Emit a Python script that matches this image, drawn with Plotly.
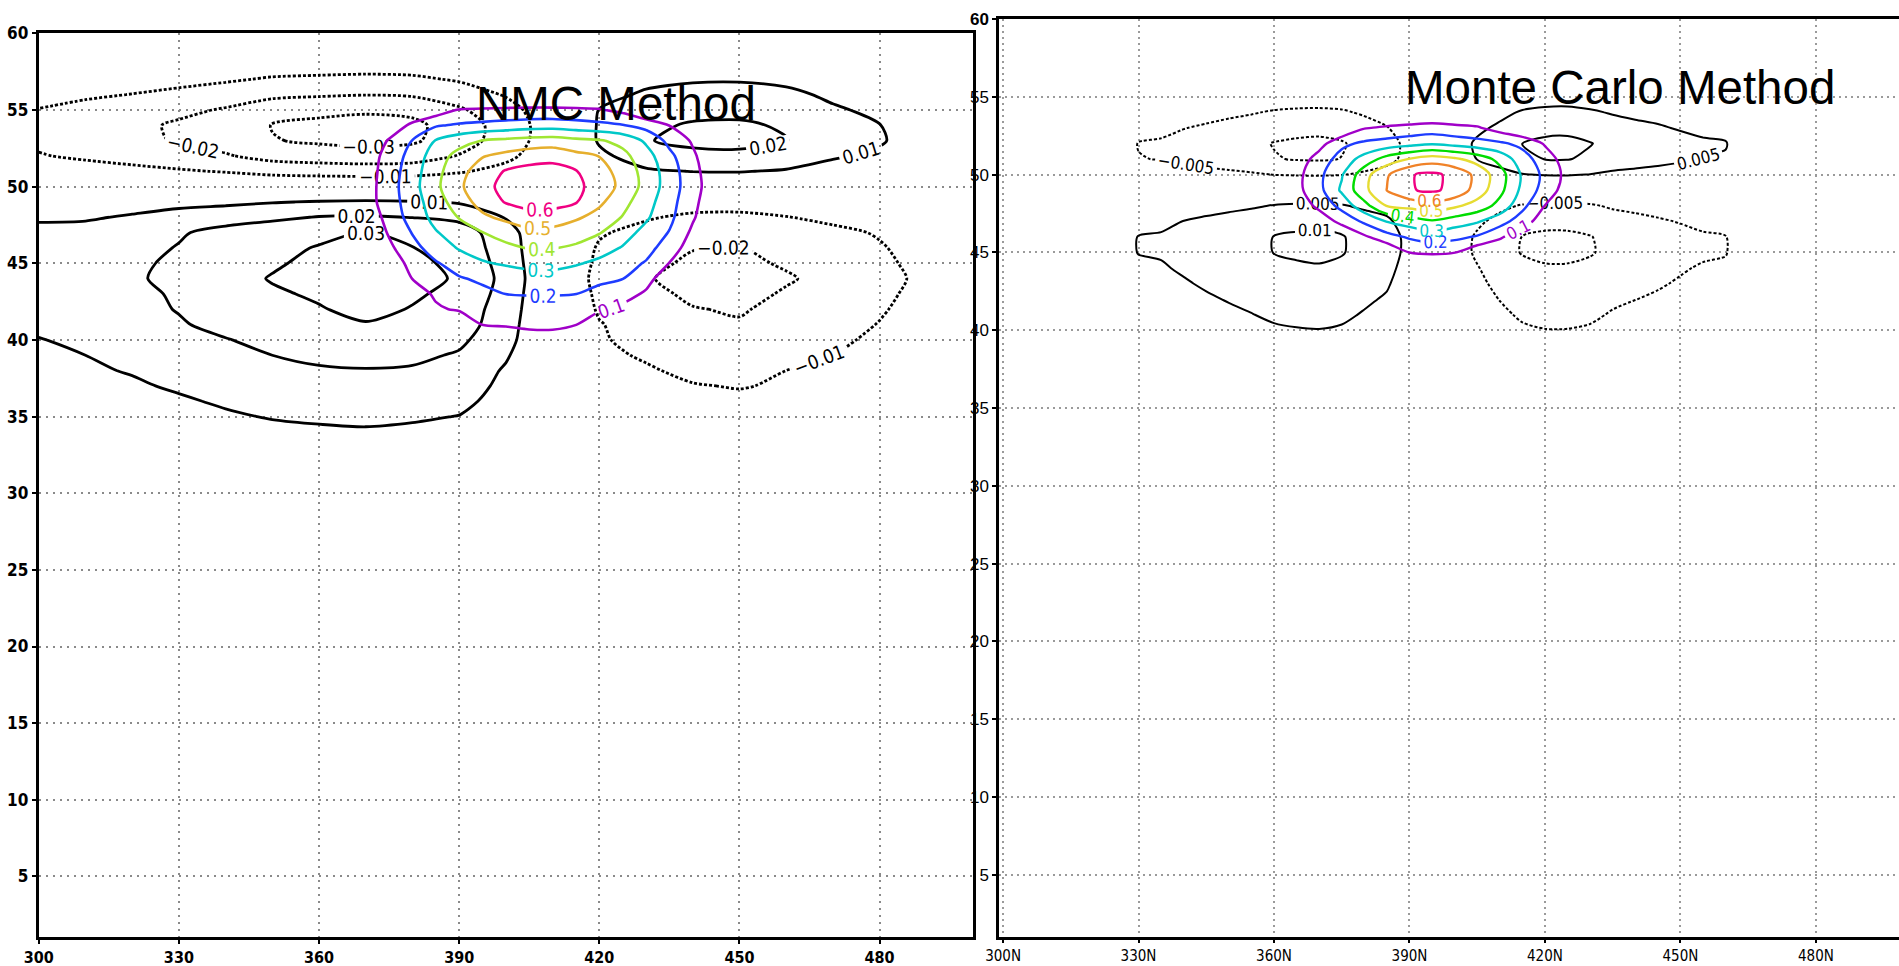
import numpy as np
import plotly.graph_objects as go

# ---------------- NMC method panel -----------------------------------------
# coloured field (units of 1/100), grid
NMC_CORR_X = [365, 370, 375, 380, 385, 390, 395, 400, 405, 410, 415, 420, 425, 430, 435, 440, 445, 450]
NMC_CORR_Y = [39, 40, 41, 42, 43, 44, 45, 46, 47, 48, 49, 50, 51, 52, 53, 54, 55, 56]
NMC_CORR = [
    [0, 0, 0, 0, 0, 0, 0, 0, 0, 0, 0, 0, 0, 0, 0, 0, 0, 0],
    [0, 0, 0, 0, 0, 0, 0, 5, 7, 7, 5, 0, 0, 0, 0, 0, 0, 0],
    [0, 0, 0, 0, 0, 1, 10.3, 10.7, 11.4, 11.5, 10.2, 1.8, 0, 0, 0, 0, 0, 0],
    [0, 0, 0, 0, 8.6, 11.2, 13.6, 15.4, 16, 16, 14.5, 11.5, 8, 0, 0, 0, 0, 0],
    [0, 0, 0, 5, 11.5, 14.5, 17.6, 20.1, 20.5, 20.5, 20.1, 17.3, 13.4, 8.8, 0, 0, 0, 0],
    [0, 0, 0, 10.2, 14.7, 19.2, 21.7, 23.7, 25.8, 26.3, 24.4, 21.9, 20.2, 13.1, 4.4, 0, 0, 0],
    [0, 0, 4.6, 12.9, 19.1, 24.2, 29, 31.2, 33, 33, 31, 27.9, 23.8, 19.2, 9.8, 0, 0, 0],
    [0, 0, 8, 16.8, 24.5, 30.8, 34.4, 37.9, 40.5, 40.4, 38.6, 34, 29.3, 23.5, 15.3, 4.6, 0, 0],
    [0, 1, 11, 20.5, 29.3, 34.7, 39.8, 43.7, 47.6, 47.2, 43.9, 40.6, 34.1, 26.9, 19.5, 8, 0, 0],
    [0, 3, 13.4, 24.2, 33.1, 40.5, 48.2, 52.4, 55.6, 54.9, 51.5, 46.4, 39.5, 31.5, 22.4, 11.2, 1, 0],
    [0, 5.4, 15.2, 25.3, 35.4, 45.2, 53.9, 60.7, 64.2, 64.2, 60.7, 52, 43.3, 34, 23.8, 12.7, 2.4, 0],
    [0, 5.4, 15.5, 26.4, 37.9, 48.2, 57.2, 62.6, 66.8, 65.8, 62.1, 56.2, 47.1, 36.7, 25.3, 14, 3.6, 0],
    [0, 5, 14.9, 25.5, 37, 46.7, 54.8, 60.7, 63, 63.5, 60.5, 54.2, 45.9, 36.4, 25, 13.3, 3, 0],
    [0, 4.2, 13.8, 23.7, 35.2, 43.4, 49.4, 52.7, 55.6, 56.8, 52.8, 49.8, 42.9, 34, 22.5, 11.7, 1.6, 0],
    [0, 1, 10.9, 20.3, 30.5, 36, 40.4, 42.1, 43.7, 44.4, 42.3, 40.9, 36.9, 28.4, 17.1, 8.8, 0, 0],
    [0, 0, 3.2, 12.2, 19, 21.2, 22.6, 24, 25.4, 25.8, 24.3, 22.5, 20.5, 16.3, 9.8, 0, 0, 0],
    [0, 0, 0, 0, 4, 10.5, 11, 11.5, 11.8, 11.8, 11.4, 10.8, 7.4, 0, 0, 0, 0, 0],
    [0, 0, 0, 0, 0, 0, 0, 0, 0, 0, 0, 0, 0, 0, 0, 0, 0, 0],
]
NMC_CORR_LEVELS = [0.1, 0.2, 0.3, 0.4, 0.5, 0.6]
NMC_CORR_COLORS = ["#a000c8", "#1e3cff", "#00c8c8", "#a0e632", "#e6af2d", "#f00082"]

# black field (units of 1/1000)
NMC_CROSS_X = [300, 310, 320, 330, 340, 350, 360, 370, 380, 390, 400, 410, 420, 430, 440, 450, 460, 470, 480, 490, 500]
NMC_CROSS_Y = [33, 34, 35, 36, 37, 38, 39, 40, 41, 42, 43, 44, 45, 46, 47, 48, 49, 50, 51, 52, 53, 54, 55, 56, 57, 58]
NMC_CROSS = [
    [2, 3, 3, 4, 5, 5, 6, 6, 6, 5, 3, 0, 0, 0, 0, 0, 0, 0, 0, 0, 0],
    [3, 4, 5, 6, 7, 8, 9, 9, 8.5, 7.5, 4, 0, -1, -2, -3, -3, -2, -2, -1, -1, 0],
    [4, 5, 6, 7.5, 9, 10.5, 11, 12, 11, 9.8, 6, 0, -3, -4, -5, -5, -4, -4, -3, -1.7, 0],
    [5, 6, 8, 9, 11, 13, 14, 15, 14, 12, 7, 0, -4, -6, -8, -8, -7, -5, -4, -2.6, 0],
    [6, 7, 9, 11, 13, 15, 16, 17, 16, 14, 8, 0, -5, -8, -9.5, -10.5, -9, -7, -5, -3.4, 0],
    [7, 9, 10.5, 13, 15, 17, 19, 19.5, 19, 16, 9, 0, -7, -9, -12, -12, -10, -8, -6, -4, 0],
    [8, 10, 12, 15, 18, 20, 22, 23, 22, 19, 11, 0, -8, -11, -14, -14, -12, -10, -8, -4.7, 0],
    [9.8, 11, 14, 17, 19.5, 23, 25, 27, 25, 22, 13, 0, -9, -13, -16, -17, -14, -11, -9, -5.4, 0],
    [11, 13, 16, 19, 23, 26, 28, 29.5, 28, 25, 14, 0, -9.5, -14, -18, -19, -16, -13, -9.7, -6.1, 0],
    [11, 14, 17, 20.5, 24, 27, 29.5, 32, 29.6, 26, 15, 0, -11, -16, -19.5, -21, -17, -14, -10.8, -6.7, 0],
    [11, 14, 18, 21, 25, 29, 31, 34, 31, 28, 16, 0, -12, -17, -22, -23, -19, -15, -11.8, -7.4, 0],
    [12, 15, 19, 22, 27, 30.5, 33, 35, 33, 29, 17, 0, -13, -19, -24, -25, -21, -17, -12.8, -8, 0],
    [12, 15, 18, 22, 26, 29, 32, 34, 32, 28, 16, 0, -12, -17, -22, -22, -19, -15, -11.8, -7.3, 0],
    [12, 14, 17, 20.5, 24, 28, 30.5, 32, 30.2, 26.5, 15, 0, -11, -16, -19.5, -20.5, -17, -14, -10.7, -6.7, 0],
    [12, 13, 16, 19, 23, 26, 28, 30.5, 28, 25, 14, 0, -9, -13, -17, -18, -15, -12, -9.3, -5.8, 0],
    [9, 9, 11, 14, 16, 18, 20.5, 21, 19.8, 17.5, 9.5, 0, -6, -9, -12, -12, -10.3, -8, -6.4, -4, 0],
    [4, 5, 6, 7, 8, 9.5, 10.5, 11, 10.5, 9, 5, 0, -3, -4, -5, -6, -5, -4, -2.9, -1.8, 0],
    [-1, -1, -1, -1, -1, -1, -1, -1, -1, -1, -1, 0, 1, 2, 2.4, 2.4, 2, 1.5, 1, 0.5, 0],
    [-5, -6, -7.5, -9, -10.6, -13, -14, -14.5, -14, -11, -7, -2, 4.6, 8.8, 10.2, 10.4, 9.2, 6.6, 5, 2, 0],
    [-9.4, -11.5, -13.5, -15.9, -19.1, -23.5, -25, -26, -25, -19.5, -12.3, -3.7, 8, 14.6, 17, 17.4, 15.3, 11, 8.3, 3.4, 0],
    [-11.8, -14.4, -16.9, -21, -24, -29.5, -31.4, -32.7, -31.4, -24.5, -15.4, -4.6, 11, 19.4, 22.7, 23.2, 20.4, 14.6, 11, 4.5, 0],
    [-12.1, -14.8, -17.4, -21.5, -24.7, -30.4, -32.3, -33.6, -32.3, -25.1, -15.8, -4.7, 11, 18, 21, 21.4, 18.9, 13.5, 10.2, 4.2, 0],
    [-10.3, -12.6, -14.8, -17.5, -21, -25.9, -27.5, -28.6, -27.5, -21.4, -13.5, -4, 10.3, 14.6, 17, 17.4, 15.3, 11, 8.3, 3.4, 0],
    [-7.1, -8.7, -10.2, -12.1, -14.5, -17.8, -18.9, -19.7, -18.9, -14.7, -9.3, -2.8, 7, 11.3, 13.2, 13.5, 11.9, 8.5, 6.4, 2.6, 0],
    [-4.4, -5.3, -6.3, -7.4, -8.9, -10.9, -11.6, -12.1, -11.6, -9.1, -5.7, -1.7, 4, 7.7, 9, 9.2, 8.1, 5.8, 4.4, 1.8, 0],
    [-2.1, -2.5, -3, -3.5, -4.2, -5.2, -5.5, -5.8, -5.5, -4.3, -2.7, -0.8, 1.4, 2.6, 3, 3.1, 2.7, 1.9, 1.5, 0.6, 0],
]
NMC_CROSS_LEVELS = [-0.03, -0.02, -0.01, 0.01, 0.02, 0.03]

# ---------------- Monte Carlo method panel ---------------------------------
MC_CORR_X = [360, 365, 370, 375, 380, 385, 390, 395, 400, 405, 410, 415, 420, 425, 430]
MC_CORR_Y = [44, 45, 46, 47, 48, 49, 50, 51, 52, 53, 54]
MC_CORR = [
    [0, 0, 0, 0, 0, 0, 0, 0, 0, 0, 0, 0, 0, 0, 0],
    [0, 0, 0, 0, 0, 1, 10.1, 11.3, 10.3, 2.4, 0, 0, 0, 0, 0],
    [0, 0, 0, 0, 8.4, 16.1, 21.5, 25, 22.6, 19, 11.7, 2.4, 0, 0, 0],
    [0, 0, 3.6, 13.1, 21.9, 30.5, 34.8, 39, 35, 31, 24.2, 14.8, 4.2, 0, 0],
    [0, 2.8, 12.7, 23.3, 36.6, 50.6, 53.3, 56, 52, 46.1, 36.7, 22.7, 9.8, 0, 0],
    [0, 7, 17.1, 31.6, 47.4, 60.2, 69.3, 71.5, 67.5, 55.6, 43, 27.4, 15.9, 5.2, 0],
    [0, 6.8, 17.6, 29.1, 46.4, 58.8, 69.3, 72, 67.5, 57.1, 44.3, 28.6, 17.4, 7, 0],
    [0, 3.6, 14.3, 24.1, 33.8, 44.1, 50.5, 55, 51.6, 46, 36.9, 24.2, 14.8, 5.2, 0],
    [0, 0, 6.2, 17.6, 21.8, 24.1, 26.4, 28.7, 26.3, 24, 21.6, 17.3, 9, 0, 0],
    [0, 0, 0, 0, 9.4, 11.3, 12.8, 14.2, 12.5, 11.1, 5.4, 0, 0, 0, 0],
    [0, 0, 0, 0, 0, 0, 0, 0, 0, 0, 0, 0, 0, 0, 0],
]
MC_CORR_LEVELS = [0.1, 0.2, 0.3, 0.4, 0.5, 0.6, 0.7]
MC_CORR_COLORS = ["#a000c8", "#1e3cff", "#00c8c8", "#00dc00", "#e6dc32", "#f08228", "#f00082"]

MC_CROSS_X = [325, 330, 335, 340, 345, 350, 355, 360, 365, 370, 375, 380, 385, 390, 395,
              400, 405, 410, 415, 420, 425, 430, 435, 440, 445, 450, 455, 460, 465, 470]
MC_CROSS_Y = [39, 40, 41, 42, 43, 44, 45, 46, 47, 48, 49, 50, 51, 52, 53, 54, 55, 56]
MC_CROSS = [
    [1.2, 1.7, 1.8, 2.1, 2.3, 2.6, 2.9, 3.4, 3.6, 3.7, 3.4, 2.8, 2.3, 1.2, 0.3, -1, -1.8, -2.6, -3.4, -3.7, -3.7, -3.4, -2.8, -2.6, -2.3, -2, -1.8, -1.7, -0.8, 0],
    [1.7, 2.3, 2.4, 2.8, 3.1, 3.5, 3.9, 4.5, 4.8, 4.9, 4.6, 3.8, 3.1, 1.7, 0.4, -1.3, -2.4, -3.5, -4.5, -4.9, -4.9, -4.6, -3.8, -3.4, -3.1, -2.7, -2.4, -2.3, -1.1, 0],
    [2.1, 2.8, 3, 3.4, 3.9, 4.4, 4.9, 5.6, 5.9, 6.1, 5.7, 4.7, 3.9, 2.1, 0.5, -1.7, -3, -4.3, -5.5, -6, -6, -5.6, -4.7, -4.2, -3.8, -3.4, -3, -2.8, -1.3, 0],
    [2.5, 3.3, 3.5, 4.1, 4.6, 5.2, 5.8, 6.7, 7, 7.2, 6.8, 5.6, 4.6, 2.5, 0.6, -2, -3.6, -5.1, -6.6, -7.2, -7.2, -6.7, -5.6, -5.05, -4.6, -4, -3.5, -3.4, -1.6, 0],
    [2.9, 3.9, 4.1, 4.7, 5.4, 6, 6.8, 7.8, 8.2, 8.4, 7.9, 6.5, 5.4, 2.9, 0.7, -2.3, -4.2, -5.9, -7.7, -8.4, -8.4, -7.8, -6.5, -5.9, -5.3, -4.7, -4.1, -3.9, -1.8, 0],
    [3.3, 4.4, 4.7, 5.4, 6.2, 6.9, 7.7, 8.9, 9.3, 9.6, 9, 7.4, 6.2, 3.3, 0.8, -2.6, -4.8, -6.7, -8.7, -9.5, -9.5, -8.9, -7.4, -6.7, -6, -5.3, -4.7, -4.4, -2.1, 0],
    [3.7, 5.1, 5.3, 6.2, 7, 7.9, 8.8, 10.1, 10.7, 11, 10.3, 8.4, 7, 3.7, 0.9, -3.1, -5.6, -7.9, -10.3, -11.2, -11.2, -10.4, -8.7, -7.8, -7.1, -6.3, -5.5, -5.2, -2.4, 0],
    [3.7, 5.1, 5.3, 6.2, 7, 7.9, 8.8, 10.1, 10.7, 11, 10.3, 8.4, 7, 3.7, 0.9, -3, -5.5, -7.7, -10.1, -10.9, -10.9, -10.2, -8.5, -7.6, -6.9, -6.1, -5.4, -5.1, -2.4, 0],
    [3, 4.1, 4.3, 5.05, 5.7, 6.4, 7.1, 8.2, 8.6, 8.9, 8.3, 6.8, 5.7, 3, 0.8, -2.4, -4.3, -6.1, -7.9, -8.6, -8.6, -8, -6.7, -6, -5.4, -4.8, -4.2, -4, -1.9, 0],
    [1.9, 2.6, 2.7, 3.2, 3.6, 4, 4.5, 5.2, 5.5, 5.6, 5.3, 4.3, 3.6, 1.9, 0.5, -1.6, -2.9, -4.1, -5.3, -5.8, -5.8, -5.4, -4.5, -4.1, -3.7, -3.3, -2.9, -2.7, -1.3, 0],
    [0.5, 0.7, 0.7, 0.9, 1, 1.1, 1.2, 1.4, 1.5, 1.5, 1.4, 1.2, 1, 0.5, 0.1, -0.5, -0.8, -1.2, -1.5, -1.7, -1.7, -1.6, -1.3, -1.2, -1.1, -0.9, -0.8, -0.8, -0.4, 0],
    [-1.9, -2.5, -2.7, -3.1, -3.5, -3.9, -4.4, -5.1, -5.4, -5.5, -5.2, -4.2, -3.3, -1.9, -0.5, 1.5, 2.7, 3.6, 4.8, 5.3, 5.4, 4.9, 4.1, 3.7, 3.4, 3, 2.6, 2.5, 1.2, 0],
    [-3.6, -4.9, -5.1, -5.9, -6.8, -7.6, -8.5, -9.7, -10.3, -10.5, -9.9, -8.1, -6.3, -3.6, -0.9, 2.7, 5.1, 6.7, 9, 10.1, 10.2, 9.2, 7.7, 7, 6.3, 5.6, 4.9, 4.7, 2.2, 0],
    [-3.8, -5.1, -5.4, -6.2, -7.1, -7.9, -8.9, -10.2, -10.8, -11.1, -10.4, -8.5, -6.6, -3.8, -0.9, 3.1, 5.6, 7.4, 10.1, 11.1, 11.3, 10.2, 8.6, 7.8, 7.1, 6.2, 5.5, 5.2, 2.4, 0],
    [-2.9, -4, -4.2, -4.9, -5.5, -6.2, -6.9, -7.9, -8.4, -8.6, -8.1, -6.6, -5.2, -2.9, -0.7, 2.3, 4.2, 5.7, 7.6, 8.5, 8.6, 7.8, 6.6, 5.9, 5.4, 4.7, 4.2, 4, 1.8, 0],
    [-2, -2.7, -2.8, -3.3, -3.7, -4.2, -4.7, -5.4, -5.7, -5.8, -5.5, -4.5, -3.5, -2, -0.5, 1.7, 3, 4, 5.4, 6, 6.1, 5.5, 4.7, 4.2, 3.8, 3.4, 3, 2.8, 1.3, 0],
    [-1, -1.4, -1.4, -1.7, -1.9, -2.1, -2.4, -2.7, -2.9, -2.9, -2.8, -2.3, -1.8, -1, -0.3, 0.9, 1.6, 2.1, 2.8, 3.1, 3.2, 2.9, 2.4, 2.2, 2, 1.7, 1.5, 1.5, 0.7, 0],
    [0, 0, 0, 0, 0, 0, 0, 0, 0, 0, 0, 0, 0, 0, 0, 0, 0, 0, 0, 0, 0, 0, 0, 0, 0, 0, 0, 0, 0, 0],
]
MC_CROSS_LEVELS = [-0.01, -0.005, 0.005, 0.01]

# ---------------- axes ------------------------------------------------------
X_TICKS = [300, 330, 360, 390, 420, 450, 480]
NMC_X_LABELS = ["300", "330", "360", "390", "420", "450", "480"]
MC_X_LABELS = ["300N", "330N", "360N", "390N", "420N", "450N", "480N"]
Y_TICKS = [5, 10, 15, 20, 25, 30, 35, 40, 45, 50, 55, 60]
NMC_Y_LABELS = ["5", "10", "15", "20", "25", "30", "35", "40", "45", "50", "55", "60"]
MC_Y_LABELS = ["5", "10", "15", "20", "25", "30", "35", "40", "45", "50", "55", "<b>60</b>"]

NARROW = "Liberation Sans Narrow, DejaVu Sans Condensed, Arial Narrow, sans-serif"
SANS = "Liberation Sans, Arial, Helvetica, sans-serif"

W, H = 1899, 966

fig = go.Figure()


def add_level(x, y, z, level, color, width, dash, xa, ya, lsize):
    fig.add_trace(go.Contour(
        x=x, y=y, z=z, xaxis=xa, yaxis=ya,
        autocontour=False,
        contours=dict(start=level, end=level, size=1, coloring="none",
                      showlabels=True,
                      labelfont=dict(family=NARROW, size=lsize, color=color)),
        line=dict(color=color, width=width, dash=dash, smoothing=0.8),
        showscale=False, hoverinfo="skip", showlegend=False))


nmc_corr = np.array(NMC_CORR) / 100.0
nmc_cross = np.array(NMC_CROSS) / 1000.0
mc_corr = np.array(MC_CORR) / 100.0
mc_cross = np.array(MC_CROSS) / 1000.0

for lev in NMC_CROSS_LEVELS:
    add_level(NMC_CROSS_X, NMC_CROSS_Y, nmc_cross, lev, "black", 2.8,
              "3px,2px" if lev < 0 else "solid", "x", "y", 19)
for lev, col in zip(NMC_CORR_LEVELS, NMC_CORR_COLORS):
    add_level(NMC_CORR_X, NMC_CORR_Y, nmc_corr, lev, col, 2.6, "solid", "x", "y", 19)

for lev in MC_CROSS_LEVELS:
    add_level(MC_CROSS_X, MC_CROSS_Y, mc_cross, lev, "black", 2.0,
              "3px,2px" if lev < 0 else "solid", "x2", "y2", 17)
for lev, col in zip(MC_CORR_LEVELS, MC_CORR_COLORS):
    add_level(MC_CORR_X, MC_CORR_Y, mc_corr, lev, col, 2.4, "solid", "x2", "y2", 17)

y_bottom = (H - 937) / H

fig.update_layout(
    template="none",
    width=W, height=H,
    margin=dict(l=0, r=0, t=0, b=0, pad=0, autoexpand=False),
    paper_bgcolor="white", plot_bgcolor="white",
    showlegend=False,
    xaxis=dict(domain=[38.75 / W, 973 / W], range=[300, 500], automargin=False,
               tickmode="array", tickvals=X_TICKS, ticktext=NMC_X_LABELS,
               showgrid=True, gridcolor="#8a8a8a", gridwidth=2, griddash="2px,5px",
               zeroline=False, showline=True, linecolor="black", linewidth=3, mirror=True,
               ticks="outside", ticklen=4, tickwidth=2, tickcolor="black",
               tickfont=dict(family=NARROW, size=16, color="black", weight="bold")),
    yaxis=dict(domain=[y_bottom, (H - 33.3) / H], range=[1.05, 60], automargin=False,
               tickmode="array", tickvals=Y_TICKS, ticktext=NMC_Y_LABELS,
               showgrid=True, gridcolor="#8a8a8a", gridwidth=2, griddash="2px,5px",
               zeroline=False, showline=True, linecolor="black", linewidth=3, mirror=True,
               ticks="outside", ticklen=4, tickwidth=2, tickcolor="black",
               tickfont=dict(family=NARROW, size=17, color="black", weight="bold")),
    xaxis2=dict(domain=[999 / W, 1.0], range=[299.1, 498.4], anchor="y2", automargin=False,
                tickmode="array", tickvals=X_TICKS, ticktext=MC_X_LABELS,
                showgrid=True, gridcolor="#9a9a9a", gridwidth=1.5, griddash="2px,4px",
                zeroline=False, showline=True, linecolor="black", linewidth=2.5, mirror=True,
                ticks="outside", ticklen=3, tickwidth=2, tickcolor="black",
                tickfont=dict(family=NARROW, size=15, color="black")),
    yaxis2=dict(domain=[y_bottom, (H - 19) / H], range=[1.0, 60], anchor="x2", automargin=False,
                tickmode="array", tickvals=Y_TICKS, ticktext=MC_Y_LABELS,
                showgrid=True, gridcolor="#9a9a9a", gridwidth=1.5, griddash="2px,4px",
                zeroline=False, showline=True, linecolor="black", linewidth=2.5, mirror=False,
                ticks="outside", ticklen=4, tickwidth=1.5, tickcolor="black",
                tickfont=dict(family=SANS, size=17, color="black")),
    annotations=[
        dict(text="NMC Method", x=473.5 / W, y=1 - 103 / H, xref="paper", yref="paper",
             xanchor="left", yanchor="middle", showarrow=False,
             font=dict(family=SANS, size=47.5, color="black")),
        dict(text="Monte Carlo Method", x=1403 / W, y=1 - 87 / H, xref="paper", yref="paper",
             xanchor="left", yanchor="middle", showarrow=False,
             font=dict(family=SANS, size=47.5, color="black")),
    ],
)

fig.write_html(
    "out.html",
    config={"displayModeBar": False},
    post_script="document.body.style.margin='0';document.body.style.overflow='hidden';",
)
